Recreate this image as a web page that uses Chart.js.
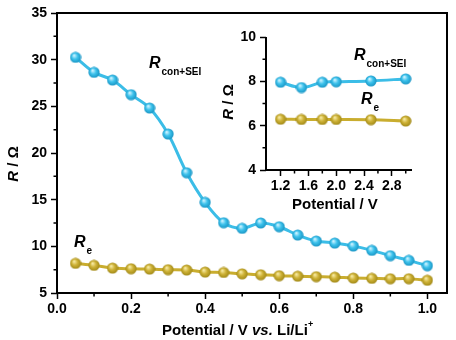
<!DOCTYPE html>
<html>
<head>
<meta charset="utf-8">
<script src="https://cdn.jsdelivr.net/npm/chart.js@4"></script>
<style>
  body { margin: 0; background: #fff; }
  #wrap { position: relative; width: 456px; height: 340px; font-family: "Liberation Sans", Arial, sans-serif; font-weight: bold; color: #000; }
  canvas { position: absolute; }
  .t { position: absolute; white-space: nowrap; line-height: 1; }
  .t i { font-style: italic; }
  .sub { font-size: 10px; position: relative; top: 7px; margin-left: 1px; }
</style>
</head>
<body>
<div id="wrap">
  <canvas id="main" width="456" height="340" style="left:0;top:0"></canvas>
  <canvas id="inset" width="220" height="190" style="left:210px;top:25px"></canvas>

  <div class="t" style="left:149px;top:55px;font-size:16px"><i>R</i><span class="sub">con+SEI</span></div>
  <div class="t" style="left:74px;top:234px;font-size:16px"><i>R</i><span class="sub">e</span></div>
  <div class="t" style="left:354px;top:47px;font-size:16px"><i>R</i><span class="sub">con+SEI</span></div>
  <div class="t" style="left:361px;top:91px;font-size:16px"><i>R</i><span class="sub">e</span></div>

  <div class="t" style="left:162px;top:322px;font-size:15px">Potential / V <i>vs.</i> Li/Li<sup style="font-size:9px;position:relative;top:-2px">+</sup></div>
  <div class="t" style="left:292px;top:196px;font-size:15px">Potential / V</div>
  <div class="t" style="left:12px;top:164px;font-size:15px;transform:translate(-50%,-50%) rotate(-90deg)"><i>R</i> / &Omega;</div>
  <div class="t" style="left:227px;top:102px;font-size:15px;transform:translate(-50%,-50%) rotate(-90deg)"><i>R</i> / &Omega;</div>
</div>

<script>
  // main plot: potential vs Li/Li+
  const potMain = [0.05, 0.10, 0.15, 0.20, 0.25, 0.30, 0.35, 0.40, 0.45, 0.50,
                   0.55, 0.60, 0.65, 0.70, 0.75, 0.80, 0.85, 0.90, 0.95, 1.00];
  const rConSei = [30.25, 28.64, 27.82, 26.25, 24.82, 22.03, 17.89, 14.71, 12.53, 11.93,
                   12.5, 12.1, 11.21, 10.57, 10.35, 10.03, 9.57, 9.0, 8.5, 7.92];
  const rE = [8.18, 7.96, 7.67, 7.6, 7.56, 7.5, 7.46, 7.24, 7.2, 7.05,
              6.96, 6.86, 6.8, 6.75, 6.7, 6.6, 6.57, 6.53, 6.53, 6.36];

  // inset: higher potentials
  const potInset = [1.2, 1.5, 1.8, 2.0, 2.5, 3.0];
  const rConSeiInset = [7.96, 7.72, 7.96, 7.98, 8.02, 8.11];
  const rEInset = [6.29, 6.28, 6.28, 6.28, 6.27, 6.21];

  // tick marks
  const mainXTicks = [0, 0.2, 0.4, 0.6, 0.8, 1.0];
  const mainXMinor = [0.1, 0.3, 0.5, 0.7, 0.9];
  const mainYTicks = [5, 10, 15, 20, 25, 30, 35];
  const mainYMinor = [7.5, 12.5, 17.5, 22.5, 27.5, 32.5];
  const insetXTicks = [1.2, 1.6, 2.0, 2.4, 2.8];
  const insetXMinor = [1.4, 1.8, 2.2, 2.6, 3.0];
  const insetYTicks = [4, 6, 8, 10];
  const insetYMinor = [5, 7, 9];

  const blue = '#3bbde7';
  const gold = '#c9ad2f';

  function ball(light, base, dark) {
    const c = document.createElement('canvas');
    c.width = 12; c.height = 12;
    const g = c.getContext('2d');
    const grad = g.createRadialGradient(4.5, 4, 0.5, 6, 6, 6);
    grad.addColorStop(0, light);
    grad.addColorStop(0.45, base);
    grad.addColorStop(1, dark);
    g.fillStyle = grad;
    g.beginPath();
    g.arc(6, 6, 5.6, 0, Math.PI * 2);
    g.fill();
    return c;
  }
  const blueBall = ball('#c8f1ff', '#3cc2ec', '#1690c0');
  const goldBall = ball('#f6e9a0', '#ceb236', '#9c8414');

  const font = { family: '"Liberation Sans", Arial, sans-serif', size: 14, weight: 'bold' };

  const frame = {
    id: 'frame',
    beforeDatasetsDraw(chart, args, opts) {
      const { ctx, chartArea: a, scales } = chart;
      ctx.save();
      ctx.strokeStyle = '#000';
      ctx.lineWidth = 2;
      ctx.beginPath();
      if (opts.box) {
        ctx.rect(a.left, a.top, a.right - a.left, a.bottom - a.top);
      } else {
        ctx.moveTo(a.left, a.top);
        ctx.lineTo(a.left, a.bottom);
        ctx.lineTo(a.right, a.bottom);
      }
      ctx.stroke();
      ctx.lineWidth = 1.5;
      ctx.beginPath();
      (opts.minorX || []).forEach(v => {
        const x = scales.x.getPixelForValue(v);
        ctx.moveTo(x, a.bottom);
        ctx.lineTo(x, a.bottom + 3.5);
      });
      (opts.minorY || []).forEach(v => {
        const y = scales.y.getPixelForValue(v);
        ctx.moveTo(a.left, y);
        ctx.lineTo(a.left - 3.5, y);
      });
      ctx.stroke();
      ctx.restore();
    }
  };

  function axis(min, max, ticks, size, isY) {
    return {
      type: 'linear',
      min: min,
      max: max,
      border: { display: false },
      grid: { drawOnChartArea: false, drawTicks: true, tickLength: 6, tickColor: '#000', tickWidth: 1.5 },
      ticks: {
        color: '#000', font: font, padding: isY ? 4 : 2,
        callback: v => isY ? v : v.toFixed(1)
      },
      afterBuildTicks: s => { s.ticks = ticks.map(v => ({ value: v })); },
      afterFit: s => {
        if (isY) s.width = size; else s.height = size;
        s.paddingLeft = 0; s.paddingRight = 0; s.paddingTop = 0; s.paddingBottom = 0;
      }
    };
  }

  function series(label, xs, ys, color, img) {
    return {
      label: label,
      data: xs.map((x, i) => ({ x: x, y: ys[i] })),
      borderColor: color,
      backgroundColor: color,
      borderWidth: 3,
      tension: 0.35,
      pointStyle: img,
      pointRadius: 6
    };
  }

  new Chart(document.getElementById('main'), {
    type: 'line',
    data: {
      datasets: [
        series('Rcon+SEI', potMain, rConSei, blue, blueBall),
        series('Re', potMain, rE, gold, goldBall)
      ]
    },
    options: {
      responsive: false,
      animation: false,
      devicePixelRatio: 1,
      layout: { padding: { top: 13, right: 4, left: 0, bottom: 0 } },
      plugins: {
        legend: { display: false },
        tooltip: { enabled: false },
        frame: { box: true, minorX: mainXMinor, minorY: mainYMinor }
      },
      scales: {
        x: axis(0, 1.053, mainXTicks, 47, false),
        y: axis(5, 35, mainYTicks, 57, true)
      }
    },
    plugins: [frame]
  });

  new Chart(document.getElementById('inset'), {
    type: 'line',
    data: {
      datasets: [
        series('Rcon+SEI', potInset, rConSeiInset, blue, blueBall),
        series('Re', potInset, rEInset, gold, goldBall)
      ]
    },
    options: {
      responsive: false,
      animation: false,
      devicePixelRatio: 1,
      layout: { padding: { top: 12, right: 18, left: 0, bottom: 0 } },
      plugins: {
        legend: { display: false },
        tooltip: { enabled: false },
        frame: { box: false, minorX: insetXMinor, minorY: insetYMinor }
      },
      scales: {
        x: axis(0.99, 3.09, insetXTicks, 45, false),
        y: axis(4, 10, insetYTicks, 56, true)
      }
    },
    plugins: [frame]
  });
</script>
</body>
</html>
